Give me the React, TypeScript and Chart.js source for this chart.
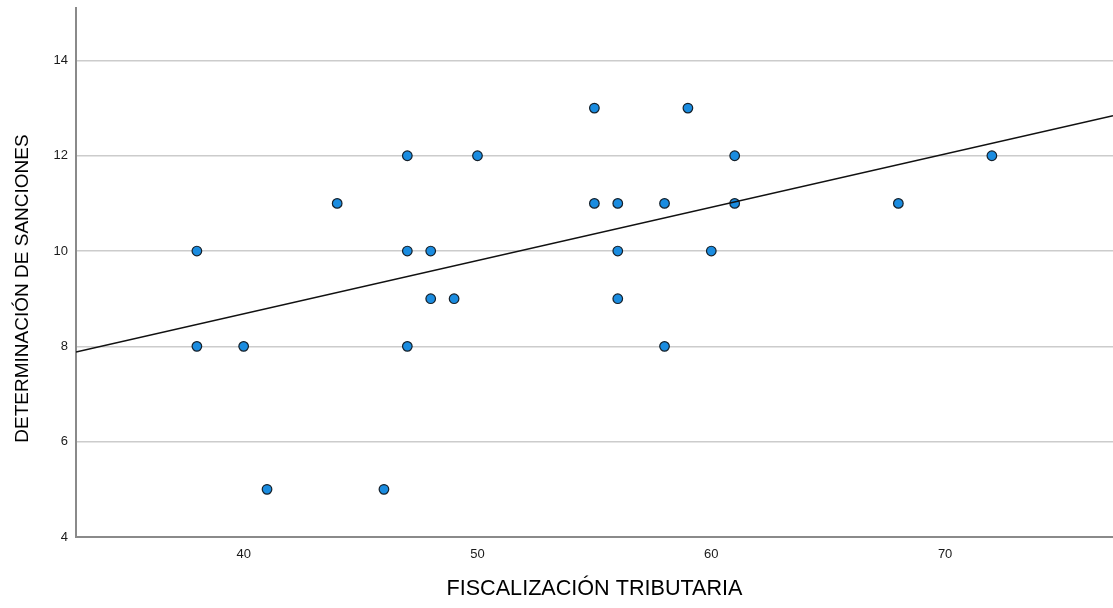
import React, { useEffect, useRef } from "react";
import { Chart, registerables } from "chart.js";

Chart.register(...registerables);

const fiscalizacion = [38, 38, 40, 41, 44, 46, 47, 47, 47, 48, 48, 49, 50, 55, 55, 56, 56, 56, 58, 58, 59, 60, 61, 61, 68, 72];
const sanciones = [10, 8, 8, 5, 11, 5, 12, 10, 8, 10, 9, 9, 12, 13, 11, 11, 10, 9, 11, 8, 13, 10, 12, 11, 11, 12];

const xTicks = [40, 50, 60, 70];
const yTicks = [4, 6, 8, 10, 12, 14];

const xMin = 32.83;
const xMax = 77.18;
const yMin = 4;
const yMax = 15.1;

const fitIntercept = 4.21;
const fitSlope = 0.1118;

const X_TITLE = "FISCALIZACIÓN TRIBUTARIA";
const Y_TITLE = "DETERMINACIÓN DE SANCIONES";

const FAMILY = "'Liberation Sans', Arial, sans-serif";

const yTitlePlugin = {
  id: "yTitle",
  afterDraw(chart: any) {
    const ctx = chart.ctx;
    const area = chart.chartArea;
    ctx.save();
    ctx.translate(23, (area.top + area.bottom) / 2 + 16);
    ctx.rotate(-Math.PI / 2);
    ctx.textAlign = "center";
    ctx.textBaseline = "middle";
    ctx.fillStyle = "#000";
    ctx.font = `19px ${FAMILY}`;
    ctx.fillText(Y_TITLE, 0, 0);
    ctx.restore();
  },
};

export default function App() {
  const ref = useRef<HTMLCanvasElement | null>(null);

  useEffect(() => {
    if (!ref.current) return;
    const points = fiscalizacion.map((x, i) => ({ x, y: sanciones[i] }));
    const fitLine = [xMin, xMax].map((x) => ({ x, y: fitIntercept + fitSlope * x }));
    const chart = new Chart(ref.current, {
      type: "scatter",
      data: {
        datasets: [
          {
            type: "line",
            data: fitLine,
            borderColor: "#111111",
            borderWidth: 1.6,
            pointRadius: 0,
            fill: false,
          } as any,
          {
            type: "scatter",
            data: points,
            backgroundColor: "#1a8ce0",
            borderColor: "#15202a",
            borderWidth: 1.2,
            pointRadius: 4.8,
          },
        ],
      },
      plugins: [yTitlePlugin],
      options: {
        animation: false,
        responsive: false,
        maintainAspectRatio: false,
        layout: { autoPadding: false, padding: { top: 8, right: 0, left: 0, bottom: 0 } },
        plugins: { legend: { display: false }, tooltip: { enabled: false } },
        scales: {
          x: {
            type: "linear",
            min: xMin,
            max: xMax,
            afterBuildTicks: (s: any) => {
              s.ticks = xTicks.map((v) => ({ value: v }));
            },
            afterFit: (s: any) => {
              s.height = 71;
              s.paddingLeft = 0;
              s.paddingRight = 0;
            },
            grid: { display: false, drawTicks: false },
            border: { display: true, color: "#8a8a8a", width: 2 },
            ticks: {
              padding: 10,
              color: "#1a1a1a",
              font: { family: FAMILY, size: 13 },
            },
            title: {
              display: true,
              text: X_TITLE,
              color: "#000",
              padding: { top: 0, bottom: 6 },
              font: { family: FAMILY, size: 21.6 },
            },
          },
          y: {
            type: "linear",
            min: yMin,
            max: yMax,
            afterBuildTicks: (s: any) => {
              s.ticks = yTicks.map((v) => ({ value: v }));
            },
            afterFit: (s: any) => {
              s.width = 76;
              s.paddingTop = 0;
              s.paddingBottom = 0;
            },
            grid: { display: true, drawTicks: false, color: "#cccccc", lineWidth: 1.6 },
            border: { display: true, color: "#8a8a8a", width: 2 },
            ticks: {
              padding: 8,
              color: "#1a1a1a",
              font: { family: FAMILY, size: 13 },
            },
            title: { display: false },
          },
        },
      },
    });
    return () => chart.destroy();
  }, []);

  return (
    <div style={{ position: "absolute", left: 0, top: 0, width: 1113, height: 608, background: "#fff" }}>
      <canvas ref={ref} width={1113} height={608} style={{ display: "block" }} />
    </div>
  );
}
